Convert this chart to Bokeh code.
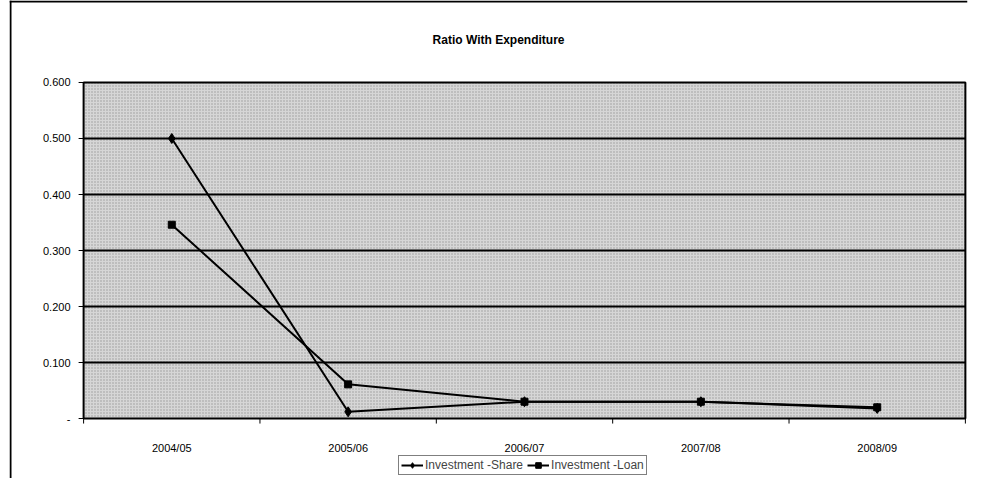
from bokeh.plotting import figure
from bokeh.models import Legend, LegendItem, Range1d, ColumnDataSource, Label
from bokeh.core.properties import value
from bokeh.embed import file_html
from bokeh.resources import INLINE

categories = ["2004/05", "2005/06", "2006/07", "2007/08", "2008/09"]
share = [0.500, 0.012, 0.030, 0.030, 0.018]
loan = [0.346, 0.061, 0.030, 0.030, 0.020]
y_ticks = [0.0, 0.1, 0.2, 0.3, 0.4, 0.5, 0.6]
y_labels = ["-", "0.100", "0.200", "0.300", "0.400", "0.500", "0.600"]
title_text = "Ratio With Expenditure"

n = len(categories)
xs = [i + 0.5 for i in range(n)]
src = ColumnDataSource(dict(x=xs, share=share, loan=loan, cat=categories,
                            ly=[-0.052] * n))
ysrc = ColumnDataSource(dict(y=y_ticks, lab=y_labels, lx=[-0.0743] * len(y_ticks),
                             t0=[0.0] * len(y_ticks), t1=[-0.0284] * len(y_ticks)))
ymax = y_ticks[-1]
x0, x1 = -0.4202, n + 0.012
y0, y1 = -0.1071, 0.7464

p = figure(frame_width=958, frame_height=478, output_backend="svg", toolbar_location=None,
           x_range=Range1d(x0, x1), y_range=Range1d(y0, y1),
           min_border_left=9, min_border_right=10, min_border_top=0, min_border_bottom=0)

p.background_fill_color = "white"
p.outline_line_color = None
p.xaxis.visible = False
p.yaxis.visible = False
p.xgrid.grid_line_color = None
p.ygrid.grid_line_color = None

# outer chart border (left and top)
p.segment(x0=[x0 + 0.0057, x0], x1=[x0 + 0.0057, x1], y0=[y0, y1 - 0.0018],
          y1=[y1, y1 - 0.0018], line_color="black", line_width=2)

# plot area
p.quad(left=0, right=n, bottom=0, top=ymax, fill_color="#d6d6d6",
       hatch_pattern="dot", hatch_color="#9a9a9a", hatch_scale=3, hatch_weight=1,
       line_color=None)
inner = y_ticks[1:-1]
p.segment(x0=[0] * len(inner), x1=[n] * len(inner), y0=inner, y1=inner,
          line_color="black", line_width=2)
p.quad(left=0, right=n, bottom=0, top=ymax, fill_color=None,
       line_color="black", line_width=2)

# y axis ticks and labels
p.segment(x0="t0", x1="t1", y0="y", y1="y", source=ysrc, line_color="black", line_width=1)
p.text(x="lx", y="y", text="lab", source=ysrc, text_align="right",
       text_baseline="middle", text_font=value("Liberation Sans"),
       text_font_size="11px", text_color="black")

# category boundary ticks and labels below the x axis
bounds = list(range(n + 1))
p.segment(x0=bounds, x1=bounds, y0=[0] * len(bounds), y1=[-0.009] * len(bounds),
          line_color="black", line_width=1)
p.text(x="x", y="ly", text="cat", source=src, text_align="center",
       text_baseline="middle", text_font=value("Liberation Sans"),
       text_font_size="11px", text_color="black")

p.add_layout(Label(x=2.353, y=0.675, text=title_text, text_align="center",
                   text_baseline="middle", text_font="Liberation Sans",
                   text_font_size="12px", text_font_style="bold", text_color="black"))

l1 = p.line("x", "share", source=src, line_color="black", line_width=2)
m1 = p.scatter("x", "share", source=src, marker="diamond", size=10, color="black")
l2 = p.line("x", "loan", source=src, line_color="black", line_width=2)
m2 = p.scatter("x", "loan", source=src, marker="square", size=7, color="black")

legend = Legend(items=[LegendItem(label="Investment -Share", renderers=[l1, m1]),
                       LegendItem(label="Investment -Loan", renderers=[l2, m2])],
                orientation="horizontal", location=(389, 3),
                border_line_color="black", border_line_width=1,
                background_fill_color="white", background_fill_alpha=1,
                label_text_font="Liberation Sans", label_text_font_size="12px",
                padding=2, spacing=4, margin=0, glyph_width=22, glyph_height=14,
                label_standoff=2, label_height=14)
p.add_layout(legend, "center")

open("out.html", "w").write(file_html(p, INLINE))
